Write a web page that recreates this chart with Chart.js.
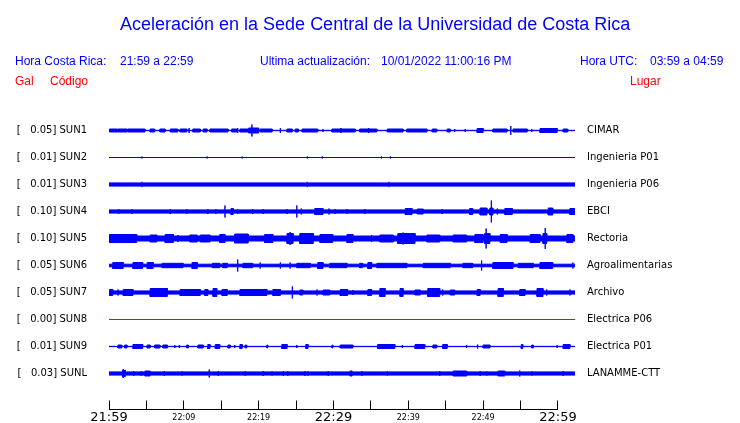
<!DOCTYPE html>
<html>
<head>
<meta charset="utf-8">
<title>Aceleración Sede Central UCR</title>
<script src="https://cdn.jsdelivr.net/npm/chart.js@4/dist/chart.umd.min.js"></script>
<style>
  body { margin: 0; width: 740px; height: 423px; background: #fff; position: relative; overflow: hidden;
         font-family: "Liberation Sans", Arial, sans-serif; }
  canvas { position: absolute; left: 0; top: 0; }
  .t { position: absolute; line-height: 1; white-space: pre; font-size: 12px; color: #0000ff; }
  .red { color: #ff0000; }
  #title { font-size: 18px; left: 120px; top: 15px; }
</style>
</head>
<body>
<canvas id="seis" width="740" height="423"></canvas>
<div class="t" id="title">Aceleración en la Sede Central de la Universidad de Costa Rica</div>
<div class="t" style="left:15px;top:55px">Hora Costa Rica:</div>
<div class="t" style="left:120px;top:55px">21:59 a 22:59</div>
<div class="t" style="left:260px;top:55px">Ultima actualización:</div>
<div class="t" style="left:381px;top:55px">10/01/2022 11:00:16 PM</div>
<div class="t" style="left:580px;top:55px">Hora UTC:</div>
<div class="t" style="left:650px;top:55px">03:59 a 04:59</div>
<div class="t red" style="left:15px;top:75px">Gal</div>
<div class="t red" style="left:50px;top:75px">Código</div>
<div class="t red" style="left:630px;top:75px">Lugar</div>

<script>
// ── Stations ─────────────────────────────────────────────────────────
const CODES  = ['SUN1', 'SUN2', 'SUN3', 'SUN4', 'SUN5', 'SUN6', 'SUN7', 'SUN8', 'SUN9', 'SUNL'];
const GAL    = [0.05, 0.01, 0.01, 0.10, 0.10, 0.05, 0.05, 0.00, 0.01, 0.03];
const PLACES = ['CIMAR', 'Ingenieria P01', 'Ingenieria P06', 'EBCI', 'Rectoria',
                'Agroalimentarias', 'Archivo', 'Electrica P06', 'Electrica P01', 'LANAMME-CTT'];

// background noise half-width of each trace (1/27 of a row)
const CORE = [0.2, 0, 1.6, 1.6, 2.5, 1.3, 1.6, 0, 0.15, 1.6];

// bursts: [start min, end min, half-width]; start == end is a single spike
const SUN1_BURSTS = [
  [0.1, 1.1, 1.5], [1.2, 2.4, 1.5], [2.5, 4.8, 1.5], [5.5, 6.1, 1.5], [6.8, 7.5, 1.5], [8.2, 9.2, 1.5],
  [9.5, 10.4, 1.5], [10.7, 10.7, 2.5], [11.2, 12.2, 1.5], [12.6, 13.1, 1.5], [13.5, 15.9, 1.5],
  [16.4, 17.1, 1.5], [17.2, 17.2, 2.5], [17.5, 18.6, 1.5], [18.7, 20.0, 2.5], [19.1, 19.1, 6],
  [20.2, 21.8, 1.5], [22.9, 22.9, 2.5], [23.8, 24.5, 1.5], [24.9, 25.3, 1.5], [25.8, 27.9, 1.5],
  [28.6, 28.6, 1.5], [29.8, 32.9, 1.5], [31.0, 31.0, 2.5], [33.5, 35.8, 1.5], [34.7, 34.7, 2.5],
  [37.2, 39.3, 1.5], [39.8, 42.5, 1.5], [43.2, 43.8, 1.5], [45.2, 45.6, 1.5], [46.2, 46.2, 1.5],
  [47.6, 47.6, 1.5], [49.2, 50.0, 2], [51.3, 53.2, 1.5], [53.7, 53.7, 4.5], [54.0, 55.9, 1.5],
  [56.5, 56.5, 1.5], [57.6, 59.9, 2], [60.7, 61.3, 1.5]
];
const SUN2_BURSTS = [
  [4.4, 4.4, 1], [13.1, 13.1, 1], [17.8, 17.8, 1], [26.5, 26.5, 1], [28.5, 28.5, 1], [36.4, 36.4, 1], [37.6, 37.6, 1]
];
const SUN3_BURSTS = [[4.4, 4.4, 2.6], [26.5, 26.5, 2.6], [37.4, 37.4, 2.6]];
const SUN4_BURSTS = [
  [1.3, 1.3, 2.5], [3.1, 3.1, 2.5], [8.2, 8.2, 2.5], [10.4, 10.4, 2.5], [13.2, 13.2, 2.5], [14.3, 14.3, 2.5],
  [15.5, 15.5, 6], [16.3, 16.6, 3], [17.2, 17.2, 2.5], [19.2, 19.2, 2.5], [20.6, 20.6, 2.5], [23.8, 23.8, 2.5],
  [25.1, 25.1, 6], [25.7, 25.7, 3], [27.5, 28.6, 3], [29.4, 29.4, 3], [30.2, 30.2, 2.5], [31.8, 31.8, 2.5],
  [34.2, 34.2, 2.5], [39.6, 40.5, 3], [41.2, 42.0, 2.5], [44.5, 44.5, 2.5], [48.2, 48.6, 3], [49.6, 50.5, 3.5],
  [50.9, 51.3, 3.5], [51.1, 51.1, 11], [51.9, 51.9, 3], [52.9, 53.9, 3], [58.7, 59.3, 3.5], [61.6, 62.3, 3]
];
const SUN5_BURSTS = [
  [0.1, 3.7, 4], [5.5, 6.4, 3.5], [7.5, 8.6, 4], [9.2, 9.2, 3.5], [10.8, 11.8, 3.5], [12.2, 13.5, 3.5],
  [14.8, 15.5, 4], [16.8, 18.6, 4.5], [20.8, 21.9, 4], [23.8, 24.6, 5], [24.2, 24.2, 6.5], [25.5, 27.3, 5],
  [28.2, 29.9, 4], [31.8, 32.6, 4], [35.1, 35.1, 3.5], [36.2, 38.0, 3.5], [38.6, 40.9, 5], [39.3, 39.3, 6],
  [42.5, 44.2, 3.5], [46.0, 47.8, 3.5], [48.9, 50.0, 4], [50.2, 50.9, 5], [50.4, 50.4, 10], [52.3, 53.2, 4],
  [56.3, 57.6, 4], [58.0, 58.5, 5], [58.3, 58.3, 10.5], [61.2, 62.0, 4]
];
const SUN6_BURSTS = [
  [0.5, 1.9, 3], [3.2, 4.5, 3], [5.1, 5.9, 3], [7.1, 9.9, 2.2], [11.1, 11.8, 3], [13.8, 14.8, 2.2],
  [15.2, 15.8, 2.2], [17.2, 17.2, 6], [17.9, 19.2, 2.2], [20.2, 20.2, 3], [22.9, 22.9, 3], [24.2, 24.2, 3],
  [25.1, 26.9, 2.2], [27.9, 28.6, 3], [29.5, 31.8, 2.2], [33.5, 33.9, 2.2], [34.6, 35.1, 3], [35.8, 39.8, 2.2],
  [42.0, 45.6, 2.2], [47.3, 48.6, 2.2], [49.8, 49.8, 5], [51.3, 54.0, 3], [54.7, 56.7, 2.2], [57.6, 59.3, 3],
  [62.0, 62.0, 3]
];
const SUN7_BURSTS = [
  [0.1, 0.5, 3], [1.2, 1.2, 3], [1.9, 3.2, 3], [5.5, 7.8, 4], [9.5, 12.2, 3], [12.8, 13.2, 3], [13.9, 14.4, 4],
  [15.1, 15.8, 3], [17.5, 21.1, 3], [21.9, 22.9, 3], [24.5, 24.5, 6], [25.5, 25.9, 2.5], [27.8, 27.8, 3],
  [28.6, 29.5, 2.5], [30.9, 31.9, 3], [32.6, 32.6, 2.5], [34.6, 35.1, 3], [36.2, 36.9, 4], [38.9, 39.3, 4],
  [40.9, 41.6, 2.5], [42.6, 44.2, 4], [44.6, 44.6, 3], [45.6, 46.2, 2.5], [49.2, 49.6, 3], [52.0, 52.7, 4],
  [54.9, 55.6, 3], [57.2, 58.0, 4], [58.5, 58.5, 3], [61.6, 61.6, 3]
];
const SUN8_BURSTS = [];
const SUN9_BURSTS = [
  [1.2, 1.7, 1.5], [2.1, 2.4, 1.5], [3.2, 4.5, 2], [5.1, 5.5, 1.5], [6.1, 6.8, 1.5], [7.2, 7.8, 1.5],
  [8.8, 8.8, 1.5], [9.4, 9.4, 1.5], [10.4, 10.6, 1.5], [11.9, 12.6, 1.5], [13.2, 13.5, 2], [14.2, 14.8, 2],
  [15.9, 16.2, 1.5], [16.8, 16.8, 1.5], [17.5, 17.8, 2], [18.2, 18.4, 1.5], [21.1, 21.2, 1.5], [23.1, 23.8, 2],
  [25.1, 25.1, 1.5], [26.3, 26.6, 2], [29.8, 29.9, 1.5], [30.9, 32.6, 1.5], [35.9, 38.2, 2], [39.2, 39.2, 1.5],
  [40.9, 42.2, 2], [43.3, 43.8, 1.5], [44.6, 45.2, 2], [47.8, 47.8, 1.5], [49.2, 49.3, 2], [50.0, 50.9, 1.5],
  [55.1, 55.3, 2], [56.5, 56.7, 1.5], [59.9, 59.9, 1.5], [60.7, 61.6, 2]
];
const SUNL_BURSTS = [
  [1.8, 2.2, 3], [1.9, 1.9, 4.5], [3.3, 3.3, 2.5], [4.3, 4.3, 2.5], [4.8, 5.5, 2.5], [7.4, 7.4, 2.5],
  [9.8, 9.8, 2.2], [13.4, 13.4, 4], [14.6, 14.6, 2.5], [18.2, 18.2, 2.5], [20.6, 20.6, 2.5], [21.8, 21.8, 2.2],
  [23.3, 23.3, 2.5], [23.9, 23.9, 2.5], [26.2, 26.2, 2.5], [26.6, 26.6, 2.2], [29.3, 29.3, 2.5], [32.2, 32.5, 2.5],
  [33.8, 33.8, 2.5], [37.2, 37.2, 2.2], [44.2, 44.2, 2.5], [46.0, 47.8, 2.5], [49.6, 49.6, 2.5], [50.5, 50.5, 2.2],
  [52.0, 52.9, 2.5], [54.9, 54.9, 3], [56.5, 56.5, 2.2], [60.7, 60.7, 2.5]
];
const BURSTS = [SUN1_BURSTS, SUN2_BURSTS, SUN3_BURSTS, SUN4_BURSTS, SUN5_BURSTS,
                SUN6_BURSTS, SUN7_BURSTS, SUN8_BURSTS, SUN9_BURSTS, SUNL_BURSTS];

// ── Time axis ────────────────────────────────────────────────────────
const TICK_MIN    = [0, 5, 10, 15, 20, 25, 30, 35, 40, 45, 50, 55, 60];
const TICK_LABELS = ['21:59', '', '22:09', '', '22:19', '', '22:29', '', '22:39', '', '22:49', '', '22:59'];
const TRACE_END   = 62.28;   // traces run a little past 22:59

const ROW_UNITS = 27;        // half-width readings are in 1/27 of a row
const AXIS_ROW  = 10 + 1 / 3;

// envelope of one trace: background level plus bursts and spikes
function envelope(core, bursts) {
  const level = t => Math.max(core, ...bursts.filter(b => b[1] > b[0] && t >= b[0] && t < b[1]).map(b => b[2]));
  const edges = [0, TRACE_END];
  bursts.forEach(b => { edges.push(b[0]); if (b[1] > b[0]) edges.push(b[1]); });
  const xs = [...new Set(edges)].sort((a, b) => a - b);
  const pts = [];
  xs.forEach(x => {
    const spikes = bursts.filter(b => b[0] === b[1] && b[0] === x).map(b => b[2]);
    pts.push({ x, y: level(x - 1e-6) });
    if (spikes.length) pts.push({ x, y: Math.max(...spikes) });
    pts.push({ x, y: level(x) });
  });
  return pts;
}

const datasets = [];
CODES.forEach((code, i) => {
  const env = envelope(CORE[i], BURSTS[i]);
  const color = GAL[i] === 0 ? '#ff0000' : '#0000ff';
  const common = { borderColor: color, backgroundColor: color, borderWidth: 1, pointRadius: 0,
                   borderJoinStyle: 'bevel', tension: 0 };
  datasets.push({ ...common, label: code, data: env.map(p => ({ x: p.x, y: i - p.y / ROW_UNITS })), fill: false });
  datasets.push({ ...common, label: code, data: env.map(p => ({ x: p.x, y: i + p.y / ROW_UNITS })), fill: '-1' });
});
// time axis baseline, 21:59 to 22:59 only
datasets.push({
  data: [{ x: TICK_MIN[0], y: AXIS_ROW }, { x: TICK_MIN[TICK_MIN.length - 1], y: AXIS_ROW }],
  borderColor: '#000', borderWidth: 1, pointRadius: 0, fill: false, clip: false
});

const rowTicks = s => { s.ticks = CODES.map((c, i) => ({ value: i })); };
// fixed side widths; drop the label overhang padding so the plot keeps its height
const sideFit = w => s => { s.width = w; s.paddingTop = 0; s.paddingBottom = 0; };
const smallFont = { family: 'DejaVu Sans', size: 8, lineHeight: '16px' };
const bigFont   = { family: 'DejaVu Sans', size: 13, lineHeight: '16px' };

new Chart(document.getElementById('seis'), {
  type: 'line',
  data: { datasets },
  options: {
    responsive: false,
    animation: false,
    events: [],
    layout: { padding: { top: 103.5 } },
    plugins: { legend: { display: false }, tooltip: { enabled: false } },
    scales: {
      x: {
        type: 'linear', min: 0, max: TRACE_END,
        afterBuildTicks: s => { s.ticks = TICK_MIN.map(v => ({ value: v })); },
        afterFit: s => { s.height = 13.5; },
        border: { display: false },
        grid: { drawOnChartArea: false, drawTicks: true, tickLength: -9, color: '#000', lineWidth: 1 },
        ticks: {
          autoSkip: false, maxRotation: 0, padding: 9, color: '#000',
          callback: (v, i) => TICK_LABELS[i],
          font: ctx => (ctx.index % 6 === 0 ? bigFont : smallFont)
        }
      },
      y: {
        position: 'left', min: -1, max: AXIS_ROW, reverse: true,
        afterBuildTicks: rowTicks,
        afterFit: sideFit(109),
        border: { display: false },
        grid: { display: false, drawTicks: false },
        ticks: {
          autoSkip: false, padding: 22, color: '#000', font: { family: 'DejaVu Sans', size: 10 },
          callback: (v, i) => `[${GAL[i].toFixed(2).padStart(7)}] ${CODES[i]}`
        }
      },
      y2: {
        position: 'right', min: -1, max: AXIS_ROW, reverse: true,
        afterBuildTicks: rowTicks,
        afterFit: sideFit(165),
        border: { display: false },
        grid: { display: false, drawTicks: false },
        ticks: {
          autoSkip: false, padding: 12, color: '#000', font: { family: 'DejaVu Sans', size: 10 },
          callback: (v, i) => PLACES[i]
        }
      }
    }
  }
});
</script>
</body>
</html>
